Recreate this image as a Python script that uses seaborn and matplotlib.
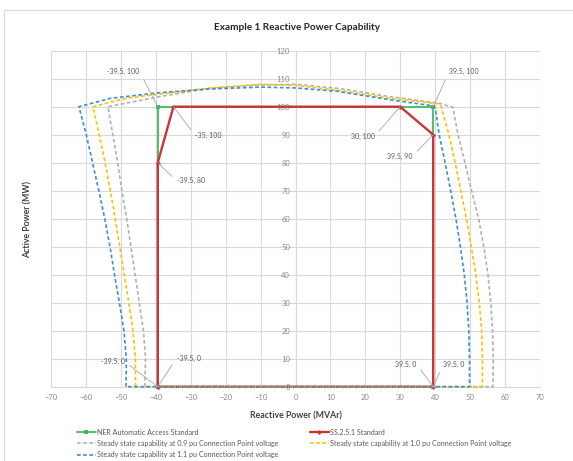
import matplotlib
matplotlib.use("Agg")
import matplotlib.pyplot as plt
from matplotlib.lines import Line2D
from matplotlib.patches import Rectangle
import seaborn as sns

# ---------------- data ----------------
ner_q = [-39.5, -39.5, 39.5, 39.5, -39.5]
ner_p = [0, 100, 100, 0, 0]

ss_q = [-39.5, -39.5, -35, 30, 39.5, 39.5, -39.5]
ss_p = [0, 80, 100, 100, 90, 0, 0]

pu09_q = [-43.2, -43.0, -43.6, -44.8, -46.0, -47.2, -48.4, -49.8, -51.0, -52.4, -53.8,
          -39.0, -25.0, -10.0, 0.0, 12.6, 27.0, 41.3, 45.1,
          46.6, 48.6, 50.5, 52.5, 54.0, 55.2, 56.0, 56.5, 56.7, 56.6, -43.2]
pu09_p = [0, 10, 20, 30, 40, 50, 60, 70, 80, 90, 100,
          103.6, 106.5, 107.8, 108.0, 106.5, 103.6, 101.2, 99.8,
          90, 80, 70, 60, 50, 40, 30, 20, 10, 0, 0]

pu10_q = [-45.9, -45.9, -46.6, -47.8, -49.1, -50.4, -51.7, -53.1, -54.6, -56.3, -58.1,
          -48.6, -39.0, -25.0, -10.0, 0.0, 12.6, 27.0, 41.3, 41.8,
          44.0, 45.8, 47.4, 49.0, 50.4, 51.7, 52.7, 53.4, 53.6, 53.6, -45.9]
pu10_p = [0, 10, 20, 30, 40, 50, 60, 70, 80, 90, 100,
          103.0, 104.5, 106.6, 108.0, 107.6, 105.8, 103.0, 101.0, 100,
          90, 80, 70, 60, 50, 40, 30, 20, 10, 0, 0]

pu11_q = [-48.6, -48.5, -49.2, -50.5, -51.9, -53.2, -54.7, -56.4, -58.2, -60.0, -62.1,
          -53.0, -39.0, -25.0, -10.0, 0.0, 12.0, 27.0, 39.5, 40.1,
          41.2, 42.9, 44.5, 46.0, 47.3, 48.4, 49.2, 49.7, 49.9, 49.9, -48.6]
pu11_p = [0, 10, 20, 30, 40, 50, 60, 70, 80, 90, 100,
          103.0, 105.0, 106.3, 107.0, 106.7, 105.5, 102.5, 100.3, 99.5,
          90, 80, 70, 60, 50, 40, 30, 20, 10, 0, 0]

labels = ["NER Automatic Access Standard", "SS.2.5.1 Standard",
          "Steady state capability at 0.9 pu Connection Point voltage",
          "Steady state capability at 1.0 pu Connection Point voltage",
          "Steady state capability at 1.1 pu Connection Point voltage"]

ann_text = ["-39.5, 100", "-35, 100", "-39.5, 80", "39.5, 100", "30, 100", "39.5, 90",
            "-39.5, 0", "-39.5, 0", "39.5, 0", "39.5, 0"]
ann_pt_q = [-39.5, -35, -39.5, 39.5, 30, 39.5, -39.5, -39.5, 39.5, 39.5]
ann_pt_p = [100, 100, 80, 100, 100, 90, 0, 0, 0, 0]

x_ticks = list(range(-70, 71, 10))
y_ticks = list(range(0, 121, 10))

# ---------------- style ----------------
sns.set_style("white")
plt.rcParams['font.family'] = ['Lato', 'DejaVu Sans']

C_GREEN = '#3dbb5c'
C_RED = '#cc3333'
C_GREY = '#b0b0b0'
C_YEL = '#ffc000'
C_BLUE = '#3a8fd6'
TXT = '#595959'

fig = plt.figure(figsize=(5.73, 4.61), dpi=100)
ax = fig.add_axes([51.4 / 573, 1 - 386.7 / 461, 488.2 / 573, 336.0 / 461])

# chart border
fig.add_artist(Rectangle((4 / 573, -0.05), 1.1, 1 - 10 / 461 + 0.05,
                         transform=fig.transFigure, fill=False,
                         edgecolor='#d9d9d9', lw=0.8))

dash = (0, (2.2, 1.5))

sns.lineplot(x=ner_q, y=ner_p, sort=False, estimator=None, ax=ax, color=C_GREEN,
             lw=1.3, marker='s', markersize=3.5, markeredgewidth=0, clip_on=False, zorder=3)
sns.lineplot(x=ss_q, y=ss_p, sort=False, estimator=None, ax=ax, color=C_RED,
             lw=1.7, marker='D', markersize=2.5, markeredgewidth=0, clip_on=False, zorder=4)
sns.lineplot(x=pu09_q, y=pu09_p, sort=False, estimator=None, ax=ax, color=C_GREY,
             lw=1.2, linestyle=dash, clip_on=False, zorder=5)
sns.lineplot(x=pu10_q, y=pu10_p, sort=False, estimator=None, ax=ax, color=C_YEL,
             lw=1.2, linestyle=dash, clip_on=False, zorder=5)
sns.lineplot(x=pu11_q, y=pu11_p, sort=False, estimator=None, ax=ax, color=C_BLUE,
             lw=1.2, linestyle=dash, clip_on=False, zorder=5)

ax.set_xlim(-70, 70)
ax.set_ylim(0, 120)
ax.set_xticks(x_ticks)
ax.set_yticks(y_ticks)
ax.grid(True, color='#d9d9d9', lw=0.8)
ax.set_axisbelow(True)
for s in ['top', 'right']:
    ax.spines[s].set_visible(False)
ax.spines['left'].set_position(('data', 0))
ax.spines['left'].set_color('#d9d9d9')
ax.spines['bottom'].set_color('#d9d9d9')
ax.tick_params(axis='both', length=0, labelsize=5.5, labelcolor='#8a8a8a')
ax.tick_params(axis='x', pad=5)
ax.tick_params(axis='y', pad=4)

ax.set_xlabel("Reactive Power (MVAr)", fontsize=6.3, fontweight='bold', color='#404040')
ax.xaxis.set_label_coords(0.5, -0.075)
fig.text(28 / 573, 1 - 220 / 461, "Active Power (MW)", rotation=90, fontsize=6.3,
         fontweight='bold', color='#404040', ha='center', va='center')
fig.text(297 / 573, 1 - 28 / 461, "Example 1 Reactive Power Capability", fontsize=7.2,
         fontweight='bold', color='#262626', ha='center', va='center')

# annotations (label positions)
ann_tq = [-44.7, -28.7, -34.1, 44.0, 22.7, 33.6, -49.0, -34.1, 34.7, 42.4]
ann_tp = [112.5, 89.6, 73.5, 112.5, 89.5, 82.4, 8.9, 10.2, 8.1, 8.1]
ann_ha = ['right', 'left', 'left', 'left', 'right', 'right', 'right', 'left', 'right', 'left']
for t, q, p, tq, tp, ha in zip(ann_text, ann_pt_q, ann_pt_p, ann_tq, ann_tp, ann_ha):
    rp = (1, 0.5) if ha == 'right' else (0, 0.5)
    ax.annotate(t, xy=(q, p), xytext=(tq, tp), ha=ha, va='center', fontsize=5.0,
                color=TXT, zorder=6,
                arrowprops=dict(arrowstyle='-', color='#a6a6a6', lw=0.6,
                                shrinkA=1.5, shrinkB=0, relpos=rp))

# legend (column-major: col1 = NER, 0.9, 1.1 ; col2 = SS, 1.0)
h_ner = Line2D([], [], color=C_GREEN, lw=1.3, marker='s', markersize=3.5, markeredgewidth=0)
h_ss = Line2D([], [], color=C_RED, lw=1.7, marker='D', markersize=2.5, markeredgewidth=0)
h_09 = Line2D([], [], color=C_GREY, lw=1.2, linestyle=dash)
h_10 = Line2D([], [], color=C_YEL, lw=1.2, linestyle=dash)
h_11 = Line2D([], [], color=C_BLUE, lw=1.2, linestyle=dash)
handles = [h_ner, h_09, h_11, h_ss, h_10]
leg_labels = [labels[0], labels[2], labels[4], labels[1], labels[3]]
leg = fig.legend(handles, leg_labels, ncol=2, loc='upper left',
                 bbox_to_anchor=(77 / 573, 1 - 428.5 / 461), frameon=False,
                 fontsize=5.15, labelcolor=TXT, handlelength=2.6, handletextpad=0.2,
                 columnspacing=4.4, labelspacing=0.6, borderaxespad=0, borderpad=0)

fig.savefig("out.png", dpi=100)
